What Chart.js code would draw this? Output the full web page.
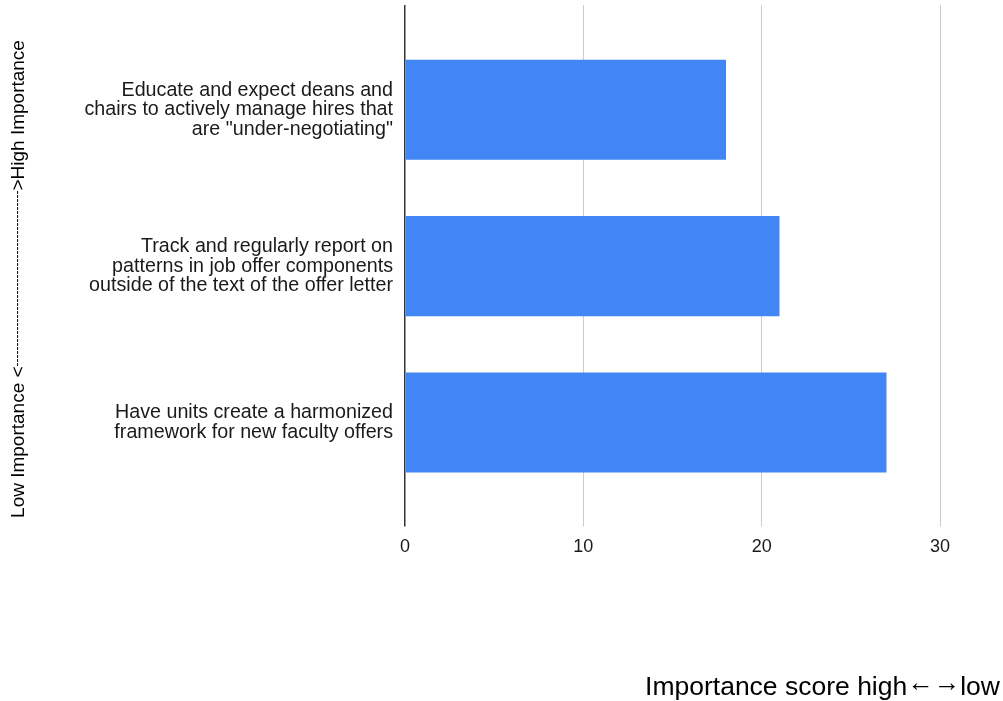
<!DOCTYPE html>
<html>
<head>
<meta charset="utf-8">
<title>Importance score</title>
<script src="https://cdn.jsdelivr.net/npm/chart.js@4/dist/chart.umd.min.js"></script>
<style>
  html, body { margin: 0; padding: 0; background: #fff; }
  #wrap { width: 1003px; height: 701px; position: relative; }
</style>
</head>
<body>
<div id="wrap"><canvas id="chart1"></canvas></div>
<script>
// each category label is kept as its wrapped lines
const categories = [
  ["Educate and expect deans and", "chairs to actively manage hires that", "are \"under-negotiating\""],
  ["Track and regularly report on", "patterns in job offer components", "outside of the text of the offer letter"],
  ["Have units create a harmonized", "framework for new faculty offers"]
];
const scores = [18, 21, 27];
const xTicks = [0, 10, 20, 30];

// y title is drawn in three pieces: the dashes are set smaller than the words
const yTitleParts = ["Low Importance <", "--------------------------------------------", ">High Importance"];
// x title pieces: the arrows get lifted to sit on the x-height
const xTitleParts = ["Importance score high", "\u2190\u2192", "low"];

const font = "'Liberation Sans', Arial, sans-serif";

// draw a run of [text, font, lift] pieces one after another from x
function drawRun(ctx, pieces, x) {
  pieces.forEach(([text, f, lift]) => {
    ctx.font = f;
    ctx.fillText(text, x, -lift);
    x += ctx.measureText(text).width;
  });
}

function runWidth(ctx, pieces) {
  return pieces.reduce((w, [text, f]) => {
    ctx.font = f;
    return w + ctx.measureText(text).width;
  }, 0);
}

// axis titles sit outside the usual scale boxes, so draw them by hand
const axisTitles = {
  id: 'axisTitles',
  afterDraw(chart) {
    const ctx = chart.ctx;
    const big = '19px ' + font;
    const small = '12px ' + font;

    ctx.save();
    ctx.fillStyle = '#000';
    ctx.textBaseline = 'alphabetic';
    ctx.textAlign = 'left';
    ctx.translate(24, 279);
    ctx.rotate(-Math.PI / 2);
    const yRun = [[yTitleParts[0], big, 0], [yTitleParts[1], small, 3], [yTitleParts[2], big, 0]];
    drawRun(ctx, yRun, -runWidth(ctx, yRun) / 2);
    ctx.restore();

    ctx.save();
    ctx.fillStyle = '#000';
    ctx.textBaseline = 'alphabetic';
    ctx.textAlign = 'left';
    const xf = '26.5px ' + font;
    const xRun = [[xTitleParts[0], xf, 0], [xTitleParts[1], xf, 4], [xTitleParts[2], xf, 0]];
    ctx.translate(1000 - runWidth(ctx, xRun), 695);
    drawRun(ctx, xRun, 0);
    ctx.restore();
  }
};

function createChart(chartId) {
  const ctx = document.getElementById(chartId);
  return new Chart(ctx, {
    type: 'bar',
    data: {
      datasets: [{
        data: scores.map((v, i) => ({ x: v, y: i })),
        backgroundColor: '#4285F4',
        borderWidth: 0,
        categoryPercentage: 0.8,
        barPercentage: 0.8
      }]
    },
    options: {
      indexAxis: 'y',
      responsive: true,
      maintainAspectRatio: false,
      animation: false,
      layout: { padding: { top: 5, right: 63, bottom: 133, left: 0 } },
      plugins: {
        legend: { display: false },
        tooltip: { enabled: false }
      },
      scales: {
        x: {
          type: 'linear',
          min: 0,
          max: 30,
          afterBuildTicks: (scale) => { scale.ticks = xTicks.map(v => ({ value: v })); },
          border: { display: false },
          grid: {
            color: (c) => c.tick && c.tick.value === 0 ? '#333' : '#ccc',
            lineWidth: (c) => c.tick && c.tick.value === 0 ? 1.5 : 1,
            tickLength: 7
          },
          ticks: { color: '#1a1a1a', font: { family: font, size: 18 }, padding: 10 }
        },
        y: {
          type: 'linear',
          reverse: true,
          offset: false,
          min: -0.67,
          max: 2.62,
          afterBuildTicks: (scale) => { scale.ticks = categories.map((c, i) => ({ value: i })); },
          afterFit: (scale) => {
            scale.width = 405;
            scale.paddingTop = 0;
            scale.paddingBottom = 0;
          },
          border: { display: false },
          grid: { display: false, offset: false },
          ticks: {
            color: '#1a1a1a',
            font: { family: font, size: 19.7, lineHeight: 0.99 },
            padding: 4,
            callback: (v) => categories[v]
          }
        }
      }
    },
    plugins: [axisTitles]
  });
}

createChart('chart1');
</script>
</body>
</html>
